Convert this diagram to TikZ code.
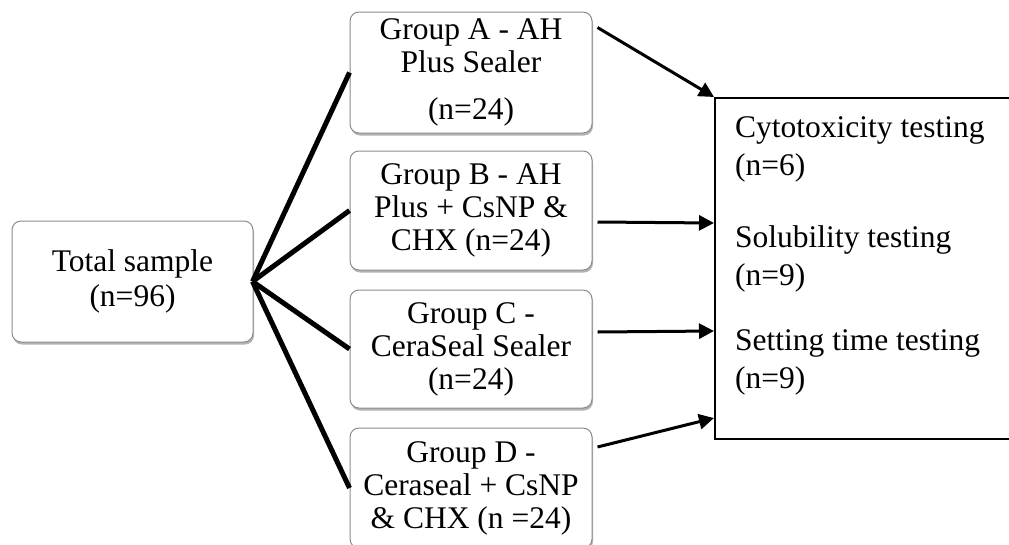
\documentclass[tikz,border=0pt]{standalone}
\usepackage{fontspec}
\setmainfont{Liberation Serif}
\usetikzlibrary{shadows,arrows.meta}
\begin{document}
\begin{tikzpicture}[x=1pt,y=-1pt,
  grp/.style={draw=black!45, line width=1pt, rounded corners=9pt, fill=white,
    minimum width=242pt, align=center, inner sep=0pt,
    font=\fontsize{31.5}{33}\selectfont,
    drop shadow={shadow xshift=1pt, shadow yshift=-2.5pt, fill=black!50, opacity=0.6}},
  fan/.style={line width=5pt},
  arr/.style={line width=3pt, -{Triangle[length=15pt,width=15pt]}},
  testtxt/.style={anchor=base west, inner sep=0pt, font=\fontsize{31.5}{38}\selectfont}
]
\useasboundingbox (0,0) rectangle (1009,544);

\node[grp, minimum width=241pt, minimum height=121pt, font=\fontsize{31.5}{35}\selectfont] (T) at (132.5,281.5) {Total sample\\(n=96)};

\node[grp, minimum height=121pt] (A) at (471,72.5) {Group A - AH\\Plus Sealer\\[14pt](n=24)};
\node[grp, minimum height=119pt] (B) at (471,210.5) {Group B - AH\\Plus + CsNP \&\\CHX (n=24)};
\node[grp, minimum height=118pt] (C) at (471,349) {Group C -\\CeraSeal Sealer\\(n=24)};
\node[grp, minimum height=120pt] (D) at (471,488) {Group D -\\Ceraseal + CsNP\\\& CHX (n =24)};

\node[draw, line width=2pt, minimum width=320pt, minimum height=341pt, anchor=north west, inner sep=0pt] (R) at (714,97) {};

\node[testtxt] (t1) at (735,137) {Cytotoxicity testing};
\node[testtxt] (t2) at (735,175) {(n=6)};
\node[testtxt] (t3) at (735,247) {Solubility testing};
\node[testtxt] (t4) at (735,285) {(n=9)};
\node[testtxt] (t5) at (735,350) {Setting time testing};
\node[testtxt] (t6) at (735,388) {(n=9)};

\coordinate (hub) at ([xshift=-1pt]T.east);
\draw[fan] (hub) -- (A.west);
\draw[fan] (hub) -- (B.west);
\draw[fan] (hub) -- (C.west);
\draw[fan] (hub) -- (D.west);

\draw[arr] ([xshift=5pt,yshift=-16pt]A.north east) -- (R.north west);
\draw[arr] ([xshift=5pt,yshift=-11.5pt]B.east) -- ([yshift=45.5pt]R.west);
\draw[arr] ([xshift=5pt,yshift=17pt]C.east) -- ([yshift=-62.5pt]R.west);
\draw[arr] ([xshift=5pt,yshift=41pt]D.east) -- ([yshift=-149.5pt]R.west);
\end{tikzpicture}
\end{document}
